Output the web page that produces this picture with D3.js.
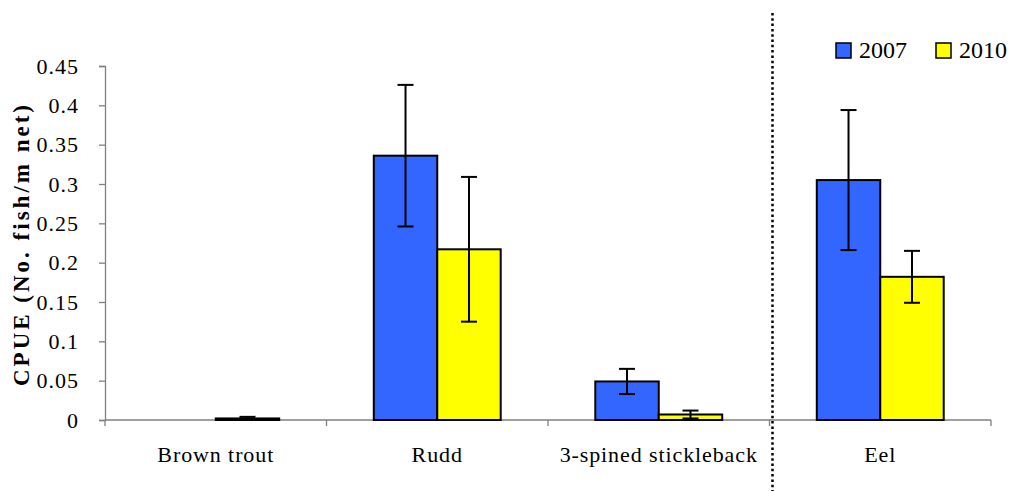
<!DOCTYPE html>
<html>
<head>
<meta charset="utf-8">
<script src="https://cdn.jsdelivr.net/npm/d3@7"></script>
<style>
  body { margin: 0; background: #fff; }
  text { font-family: "Liberation Serif", "Times New Roman", serif; fill: #000; }
</style>
</head>
<body>
<svg id="chart" width="1012" height="491"></svg>
<script>
// species on the x axis, the last one sits right of the divider
const categories = ['Brown trout', 'Rudd', '3-spined stickleback', 'Eel'];
const years = ['2007', '2010'];
const colors = ['#3366ff', '#ffff00'];

// CPUE per species, one value per year
const cpue2007 = [0, 0.336, 0.049, 0.305];
const cpue2010 = [0.002, 0.217, 0.007, 0.182];
const err2007 = [0, 0.090, 0.016, 0.089];
const err2010 = [0.002, 0.092, 0.005, 0.033];

const yTicks = [0, 0.05, 0.1, 0.15, 0.2, 0.25, 0.3, 0.35, 0.4, 0.45];

const margin = { top: 66, right: 21, bottom: 71, left: 105 };
const width = 1012 - margin.left - margin.right;
const height = 491 - margin.top - margin.bottom;

const svg = d3.select('#chart')
  .append('g')
  .attr('transform', 'translate(' + margin.left + ',' + margin.top + ')');

const x0 = d3.scaleBand()
  .domain(categories)
  .range([0, width])
  .paddingInner(0.427)
  .paddingOuter(0.2135);

const x1 = d3.scaleBand()
  .domain(years)
  .range([0, x0.bandwidth()]);

const y = d3.scaleLinear()
  .domain([0, 0.45])
  .range([height, 0]);

const step = x0.step();

// y axis
const yAxis = svg.append('g')
  .attr('class', 'axis axis--y')
  .call(d3.axisLeft(y).tickValues(yTicks).tickSize(6).tickPadding(20)
    .tickFormat(d => d3.format('~g')(d)));
yAxis.select('.domain').attr('stroke', '#808080').attr('stroke-width', 1.3);
yAxis.selectAll('.tick line').attr('stroke', '#808080').attr('stroke-width', 1.3);
yAxis.selectAll('.tick text')
  .style('font-size', '22px')
  .style('letter-spacing', '1px');

// x axis: ticks between categories rather than at their centres
const xAxis = svg.append('g')
  .attr('class', 'axis axis--x')
  .attr('transform', 'translate(0,' + height + ')');
xAxis.append('line')
  .attr('x1', 0).attr('x2', width)
  .attr('stroke', '#808080').attr('stroke-width', 1.3);
xAxis.selectAll('.sep')
  .data(d3.range(categories.length + 1))
  .enter().append('line')
  .attr('x1', i => i * step).attr('x2', i => i * step)
  .attr('y1', 0).attr('y2', 6)
  .attr('stroke', '#808080').attr('stroke-width', 1.3);
xAxis.selectAll('.cat')
  .data(categories)
  .enter().append('text')
  .attr('x', d => x0(d) + x0.bandwidth() / 2)
  .attr('y', 42)
  .attr('text-anchor', 'middle')
  .style('font-size', '22px')
  .style('letter-spacing', '0.9px')
  .text(d => d);

svg.append('text')
  .attr('transform', 'rotate(-90)')
  .attr('x', -height / 2 - 1)
  .attr('y', -76)
  .attr('text-anchor', 'middle')
  .style('font-size', '23px')
  .style('font-weight', 'bold')
  .style('letter-spacing', '3px')
  .text('CPUE (No. fish/m net)');

// bars
const rows = categories.map((c, i) => ({
  cat: c,
  vals: [
    { year: years[0], v: cpue2007[i], e: err2007[i] },
    { year: years[1], v: cpue2010[i], e: err2010[i] }
  ]
}));

const groups = svg.selectAll('.grp')
  .data(rows)
  .enter().append('g')
  .attr('transform', d => 'translate(' + x0(d.cat) + ',0)');

groups.selectAll('rect')
  .data(d => d.vals)
  .enter().append('rect')
  .attr('x', d => x1(d.year))
  .attr('y', d => y(d.v))
  .attr('width', x1.bandwidth())
  .attr('height', d => height - y(d.v))
  .attr('fill', (d, i) => colors[i])
  .attr('stroke', '#000')
  .attr('stroke-width', 2);

// error bars
const eb = groups.selectAll('.err')
  .data(d => d.vals.filter(v => v.e > 0))
  .enter().append('g')
  .attr('stroke', '#000')
  .attr('stroke-width', 2);
eb.append('line')
  .attr('x1', d => x1(d.year) + x1.bandwidth() / 2)
  .attr('x2', d => x1(d.year) + x1.bandwidth() / 2)
  .attr('y1', d => y(d.v + d.e))
  .attr('y2', d => y(Math.max(0, d.v - d.e)));
eb.selectAll('.cap')
  .data(d => [d.v + d.e, Math.max(0, d.v - d.e)].map(val => ({ year: d.year, val })))
  .enter().append('line')
  .attr('x1', d => x1(d.year) + x1.bandwidth() / 2 - 8)
  .attr('x2', d => x1(d.year) + x1.bandwidth() / 2 + 8)
  .attr('y1', d => y(d.val))
  .attr('y2', d => y(d.val));

// dotted divider before Eel
svg.append('line')
  .attr('x1', 3 * step + 3).attr('x2', 3 * step + 3)
  .attr('y1', -53).attr('y2', height + margin.bottom)
  .attr('stroke', '#000')
  .attr('stroke-width', 2.5)
  .attr('stroke-dasharray', '2.5,2.8');

// legend
const legend = svg.append('g')
  .attr('transform', 'translate(' + (width - 155) + ',-23)');
const li = legend.selectAll('.li')
  .data(years)
  .enter().append('g')
  .attr('transform', (d, i) => 'translate(' + (i * 100) + ',0)');
li.append('rect')
  .attr('x', 0).attr('y', 0)
  .attr('width', 15).attr('height', 15)
  .attr('fill', (d, i) => colors[i])
  .attr('stroke', '#000')
  .attr('stroke-width', 1.5);
li.append('text')
  .attr('x', 23).attr('y', 15)
  .style('font-size', '24px')
  .text(d => d);
</script>
</body>
</html>
